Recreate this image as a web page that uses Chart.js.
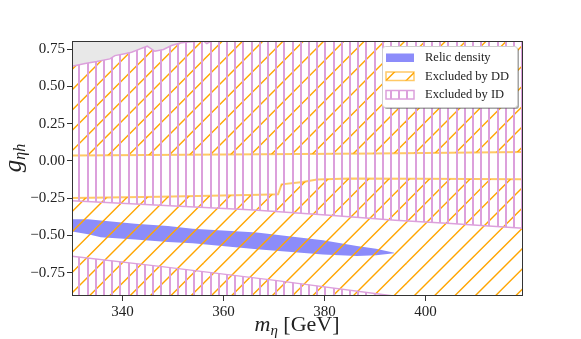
<!DOCTYPE html>
<html lang="en">
<head>
<meta charset="UTF-8" />
<title>Excluded regions</title>
<style>
  html, body { margin: 0; padding: 0; background: #fff; }
  #wrap { width: 581px; height: 339px; }
</style>
<script src="https://cdn.jsdelivr.net/npm/chart.js"></script>
</head>
<body>
<div id="wrap"><canvas id="chart" width="581" height="339"></canvas></div>
<script>
// boundaries (x = m_eta in GeV, y = g_eta_h)
const idTopX = [330.0, 332.6, 334.9, 337.5, 338.5, 340.2, 341.8, 343.5, 344.9, 346.4, 348.1, 349.7, 351.4, 353.0, 356.0, 356.7, 357.9, 360.0, 419.3];
const idTopY = [0.636, 0.655, 0.668, 0.686, 0.708, 0.719, 0.730, 0.753, 0.771, 0.737, 0.749, 0.776, 0.793, 0.800, 0.806, 0.789, 0.812, 0.85, 0.85];

const idMidX = [330.0, 347.4, 366.0, 381.0, 394.0, 405.0, 419.3];
const idMidY = [-0.267, -0.298, -0.330, -0.365, -0.398, -0.420, -0.452];

const idLowX = [330.0, 347.4, 370.2, 397.3];
const idLowY = [-0.640, -0.708, -0.802, -0.923];

const ddUpX = [330.0, 360.0, 390.0, 419.3];
const ddUpY = [0.037, 0.043, 0.050, 0.060];

const ddLowX = [330.0, 347.4, 367.2, 370.8, 371.5, 375.7, 378.5, 385.0, 398.9, 419.3];
const ddLowY = [-0.249, -0.240, -0.226, -0.224, -0.157, -0.141, -0.125, -0.118, -0.120, -0.122];

const relicX = [330.0, 333.2, 335.7, 342.5, 349.0, 353.9, 366.6, 379.7, 386.4, 390.2, 393.8];
const relicUp = [-0.392, -0.392, -0.399, -0.421, -0.437, -0.455, -0.481, -0.533, -0.571, -0.589, -0.616];
const relicLow = [-0.473, -0.492, -0.512, -0.528, -0.544, -0.553, -0.593, -0.629, -0.638, -0.634, -0.620];

const xTicks = [340, 360, 380, 400];
const yTicks = [-0.75, -0.5, -0.25, 0, 0.25, 0.5, 0.75];
const legendLabels = ["Relic density", "Excluded by DD", "Excluded by ID"];

const pts = (xs, ys) => xs.map((x, i) => ({ x: x, y: ys[i] }));

const canvas = document.getElementById("chart");
const ctx = canvas.getContext("2d");

// hatch tiles, anchored to the canvas origin
function diagHatch(color, step, lw, phase) {
  const n = 10;
  const size = Math.round(step * n);
  const c = document.createElement("canvas");
  c.width = size; c.height = size;
  const g = c.getContext("2d");
  g.strokeStyle = color; g.lineWidth = lw;
  for (let k = -n - 2; k <= 2 * n + 2; k++) {
    const cc = phase + k * step;
    g.beginPath();
    g.moveTo(-20, cc + 20);
    g.lineTo(size + 20, cc - size - 20);
    g.stroke();
  }
  return ctx.createPattern(c, "repeat");
}

function vertHatch(color, step, lw, phase) {
  const n = 10;
  const w = Math.round(step * n);
  const c = document.createElement("canvas");
  c.width = w; c.height = 8;
  const g = c.getContext("2d");
  g.fillStyle = color;
  for (let k = -1; k <= n + 1; k++) {
    const x = Math.round(phase + k * step);
    g.fillRect(x - 1, 0, lw, 8);
  }
  return ctx.createPattern(c, "repeat");
}

const orange = "#ffa500";
const orangeEdge = "rgba(255,165,0,0.6)";
const plum = "#dca0dc";
const blue = "#8c8cfa";
const grey = "#e8e8e8";

const ddPat = diagHatch(orange, 20.3, 1.4, 19.8);
const idPat = vertHatch(plum, 8.2, 2, 5.5);

const line = (data, extra) => Object.assign({
  data: data, pointRadius: 0, borderWidth: 0, tension: 0, fill: false
}, extra);

const datasets = [
  line(pts(idTopX, idTopY), { fill: "end", backgroundColor: grey, order: 9 }),               // 0
  line(pts(relicX, relicUp), { fill: 2, backgroundColor: blue, order: 8 }),                   // 1
  line(pts(relicX, relicLow), { order: 8 }),                                                  // 2
  line(pts(ddUpX, ddUpY), { fill: 5, backgroundColor: ddPat, borderColor: orangeEdge, borderWidth: 2, order: 6 }),   // 3
  line(pts(ddLowX, ddLowY), { fill: "start", backgroundColor: ddPat, borderColor: orangeEdge, borderWidth: 2, order: 6 }), // 4
  line(pts(idTopX, idTopY), { fill: 6, backgroundColor: idPat, borderColor: plum, borderWidth: 1.5, order: 4 }),    // 5
  line(pts(idMidX, idMidY), { borderColor: plum, borderWidth: 1.5, order: 4 }),                // 6
  line(pts(idLowX, idLowY), { fill: "start", backgroundColor: idPat, borderColor: plum, borderWidth: 1.5, order: 4 }) // 7
];

const tickFont = { family: "'Liberation Serif', serif", size: 15 };

const overlay = {
  id: "overlay",
  afterDraw(chart) {
    const a = chart.chartArea;
    const c = chart.ctx;
    c.save();
    // frame
    c.strokeStyle = "#333";
    c.lineWidth = 1;
    c.strokeRect(a.left + 0.5, a.top + 0.5, a.right - a.left - 1, a.bottom - a.top - 1);

    // legend
    const bx = 382, by = 46, bw = 135, bh = 61;
    c.fillStyle = "rgba(90,90,90,0.55)";
    c.beginPath(); c.roundRect(bx + 2, by + 2, bw, bh, 3); c.fill();
    c.fillStyle = "#fff";
    c.strokeStyle = "#cfcfcf";
    c.beginPath(); c.roundRect(bx + 0.5, by + 0.5, bw, bh, 3); c.fill(); c.stroke();

    const px = 386, pw = 28, ph = 8.5;
    const rows = [53.5, 72, 90.5];
    c.fillStyle = blue;
    c.fillRect(px, rows[0], pw, ph);
    c.fillStyle = ddPat;
    c.fillRect(px, rows[1], pw, ph);
    c.strokeStyle = orangeEdge; c.lineWidth = 1.5;
    c.strokeRect(px, rows[1], pw, ph);
    c.fillStyle = idPat;
    c.fillRect(px, rows[2], pw, ph);
    c.strokeStyle = plum; c.lineWidth = 1.5;
    c.strokeRect(px, rows[2], pw, ph);

    c.fillStyle = "#222";
    c.font = "12.5px 'Liberation Serif', serif";
    c.textBaseline = "middle";
    legendLabels.forEach((t, i) => c.fillText(t, 425, rows[i] + ph / 2));

    // x title: m_eta [GeV]
    c.textBaseline = "alphabetic";
    const big = "italic 22px 'Liberation Serif', serif";
    const sub = "italic 15px 'Liberation Serif', serif";
    const reg = "22px 'Liberation Serif', serif";
    c.font = big; const w1 = c.measureText("m").width;
    c.font = sub; const w2 = c.measureText("\u03b7").width;
    c.font = reg; const w3 = c.measureText(" [GeV]").width;
    const x0 = 297 - (w1 + w2 + w3) / 2;
    const yb = 331;
    c.font = big; c.fillText("m", x0, yb);
    c.font = sub; c.fillText("\u03b7", x0 + w1, yb + 4);
    c.font = reg; c.fillText(" [GeV]", x0 + w1 + w2, yb);

    // y title: g_eta h
    c.translate(21, 158);
    c.rotate(-Math.PI / 2);
    const gbig = "italic 25px 'Liberation Serif', serif";
    const gsub = "italic 16px 'Liberation Serif', serif";
    c.font = gbig; const g1 = c.measureText("g").width;
    c.font = gsub; const g2 = c.measureText("\u03b7h").width;
    const gx = -(g1 + g2) / 2;
    c.font = gbig; c.fillText("g", gx, 0);
    c.font = gsub; c.fillText("\u03b7h", gx + g1, 4);
    c.restore();
  }
};

new Chart(ctx, {
  type: "line",
  data: { datasets: datasets },
  options: {
    responsive: false,
    animation: false,
    events: [],
    layout: { padding: { top: 41, right: 58, left: 0, bottom: 0 } },
    plugins: { legend: { display: false }, tooltip: { enabled: false }, filler: { propagate: false } },
    scales: {
      x: {
        type: "linear", min: 330, max: 419.3,
        afterBuildTicks: s => { s.ticks = xTicks.map(v => ({ value: v })); },
        afterFit: s => { s.height = 43; },
        ticks: { font: tickFont, color: "#222", padding: 2, maxRotation: 0, autoSkip: false },
        grid: { drawOnChartArea: false, drawTicks: true, tickLength: 5, tickColor: "#333" },
        border: { display: false }
      },
      y: {
        type: "linear", min: -0.907, max: 0.806,
        afterBuildTicks: s => { s.ticks = yTicks.map(v => ({ value: v })); },
        afterFit: s => { s.width = 72; },
        ticks: {
          font: tickFont, color: "#222", padding: 2, autoSkip: false,
          callback: v => (v < 0 ? "\u2212" : "") + Math.abs(v).toFixed(2)
        },
        grid: { drawOnChartArea: false, drawTicks: true, tickLength: 5, tickColor: "#333" },
        border: { display: false }
      }
    }
  },
  plugins: [overlay]
});
</script>
</body>
</html>
